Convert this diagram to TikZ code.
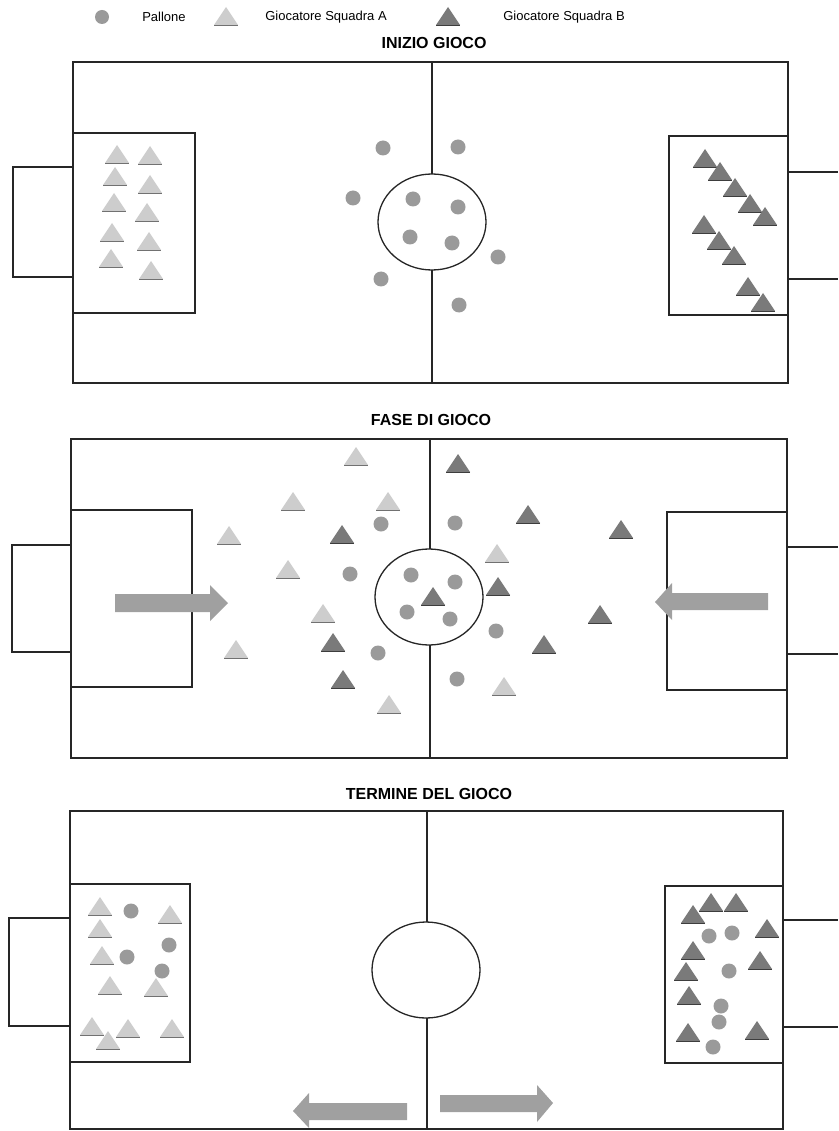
\documentclass[tikz,border=0pt]{standalone}
\usepackage{fontspec}
\setmainfont{Liberation Sans}
\definecolor{linec}{HTML}{262626}
\definecolor{ballc}{HTML}{9A9A9A}
\definecolor{triAc}{HTML}{CDCDCD}
\definecolor{triBc}{HTML}{7A7A7A}
\definecolor{arrowc}{HTML}{A0A0A0}
\tikzset{
  fieldline/.style={draw=linec, line width=2.6pt},
  thinline/.style={draw=linec, line width=1.3pt},
  ball/.style={circle, fill=ballc, minimum size=15pt, inner sep=0pt},
  baseline A/.style={draw=triAc!55!black, line width=0.7pt},
  baseline B/.style={draw=triBc!50!black, line width=0.9pt},
  pics/tA/.style={code={\path[fill=triAc] (-12,0)--(12,0)--(0,-18)--cycle; \draw[baseline A] (-12,0)--(12,0);}},
  pics/tB/.style={code={\path[fill=triBc] (-12,0)--(12,0)--(0,-18)--cycle; \draw[baseline B] (-12,0)--(12,0);}},
  bigarrow/.style={fill=arrowc},
  legendtext/.style={font=\fontsize{13}{15}\selectfont, inner sep=0pt},
  titletext/.style={font=\fontsize{16}{18}\selectfont\bfseries, inner sep=0pt}
}
\begin{document}
\begin{tikzpicture}[x=1pt, y=-1pt]
\useasboundingbox[fill=white] (0,0) rectangle (838,1131);

% ---------- legend ----------
\node[ball, minimum size=14pt] (legball) at (102,17) {};
\node[legendtext] (legballt) at (164,17) {Pallone};
\pic at (226,25) {tA};
\node[legendtext] (legAt) at (326,17) {Giocatore Squadra A};
\pic at (448,25) {tB};
\node[legendtext] (legBt) at (564,17) {Giocatore Squadra B};

% ---------- field 1 ----------
\node[titletext] (title1) at (434,43) {INIZIO GIOCO};
\draw[thinline] (73,133) rectangle (195,313);
\draw[thinline] (669,136) rectangle (788,315);
\draw[thinline] (432,62) -- (432,174);
\draw[thinline] (432,270) -- (432,383);
\draw[thinline] (432,222) ellipse [x radius=54pt, y radius=48pt];
\draw[fieldline] (73,62) rectangle (788,383);
\draw[fieldline] (73,167) -- (13,167) -- (13,277) -- (73,277);
\draw[fieldline] (788,172) -- (838,172);
\draw[fieldline] (788,279) -- (838,279);
\foreach \x/\y [count=\i] in {383/148,353/198,413/199,410/237,381/279,458/147,458/207,452/243,498/257,459/305}
  \node[ball] (fa\i) at (\x,\y) {};
\foreach \x/\y in {117/163,150/164,115/185,150/193,114/211,147/221,112/241,149/250,111/267,151/279}
  \pic at (\x,\y) {tA};
\foreach \x/\y in {705/167,720/180,735/196,750/212,765/225,704/233,719/249,734/264,748/295,763/311}
  \pic at (\x,\y) {tB};

% ---------- field 2 ----------
\node[titletext] (title2) at (431,420) {FASE DI GIOCO};
\draw[thinline] (71,510) rectangle (192,687);
\draw[thinline] (667,512) rectangle (787,690);
\draw[thinline] (430,439) -- (430,549);
\draw[thinline] (430,645) -- (430,758);
\draw[thinline] (429,597) ellipse [x radius=54pt, y radius=48pt];
\draw[fieldline] (71,439) rectangle (787,758);
\draw[fieldline] (71,545) -- (12,545) -- (12,652) -- (71,652);
\draw[fieldline] (787,547) -- (838,547);
\draw[fieldline] (787,654) -- (838,654);
\foreach \x/\y [count=\i] in {381/524,350/574,411/575,407/612,378/653,455/523,455/582,450/619,496/631,457/679}
  \node[ball] (fb\i) at (\x,\y) {};
\foreach \x/\y in {356/465,293/510,388/510,229/544,288/578,323/622,236/658,389/713,497/562,504/695}
  \pic at (\x,\y) {tA};
\foreach \x/\y in {342/543,333/651,343/688,458/472,528/523,621/538,498/595,433/605,600/623,544/653}
  \pic at (\x,\y) {tB};
\fill[bigarrow] (115,594) -- (210,594) -- (210,585) -- (228,603) -- (210,621) -- (210,612) -- (115,612) -- cycle;
\fill[bigarrow] (768,593) -- (672,593) -- (672,583) -- (655,602) -- (672,620) -- (672,610) -- (768,610) -- cycle;

% ---------- field 3 ----------
\node[titletext] (title3) at (429,794) {TERMINE DEL GIOCO};
\draw[thinline] (70,884) rectangle (190,1062);
\draw[thinline] (665,886) rectangle (783,1063);
\draw[thinline] (427,811) -- (427,922);
\draw[thinline] (427,1018) -- (427,1129);
\draw[thinline] (426,970) ellipse [x radius=54pt, y radius=48pt];
\draw[fieldline] (70,811) rectangle (783,1129);
\draw[fieldline] (70,918) -- (9,918) -- (9,1026) -- (70,1026);
\draw[fieldline] (783,920) -- (838,920);
\draw[fieldline] (783,1027) -- (838,1027);
\foreach \x/\y in {100/915,170/923,100/937,102/964,110/994,156/996,92/1035,128/1037,172/1037,108/1049}
  \pic at (\x,\y) {tA};
\foreach \x/\y [count=\i] in {131/911,169/945,127/957,162/971}
  \node[ball] (fcl\i) at (\x,\y) {};
\foreach \x/\y in {693/923,711/911,736/911,767/937,693/959,760/969,686/980,689/1004,688/1041,757/1039}
  \pic at (\x,\y) {tB};
\foreach \x/\y [count=\i] in {709/936,732/933,729/971,721/1006,719/1022,713/1047}
  \node[ball] (fcr\i) at (\x,\y) {};
\fill[bigarrow] (407,1103) -- (309,1103) -- (309,1093) -- (293,1111) -- (309,1128) -- (309,1120) -- (407,1120) -- cycle;
\fill[bigarrow] (440,1095) -- (537,1095) -- (537,1085) -- (553,1103) -- (537,1122) -- (537,1112) -- (440,1112) -- cycle;
\end{tikzpicture}
\end{document}
